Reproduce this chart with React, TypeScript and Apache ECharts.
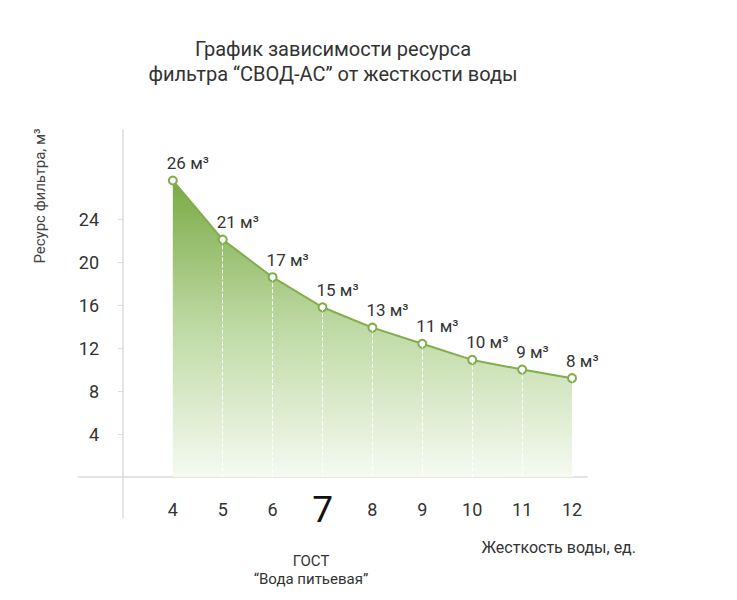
import React, { useEffect, useRef } from "react";
import * as echarts from "echarts";

// жесткость воды, ед.
const hardness = [4, 5, 6, 7, 8, 9, 10, 11, 12];
// положение точек на шкале (как нарисовано)
const plotted = [27.6, 22.1, 18.6, 15.8, 13.9, 12.4, 10.9, 10.0, 9.2];
// подписи ресурса, м³
const resource = [26, 21, 17, 15, 13, 11, 10, 9, 8];
const yTicks = [4, 8, 12, 16, 20, 24];
const gostValue = 7;

const FONT = "Roboto, 'Noto Sans', sans-serif";

const App = () => {
  const chartRef = useRef(null);

  useEffect(() => {
    let myChart: echarts.ECharts = null;
    if (chartRef.current !== null) {
      myChart = echarts.init(chartRef.current, null, { renderer: "svg" });
    }

    const points = hardness.map((h, i) => [h, plotted[i]]);

    const option = {
      animation: false,
      textStyle: { fontFamily: FONT },
      title: {
        text: "График зависимости ресурса\nфильтра “СВОД-АС” от жесткости воды",
        left: 328,
        textAlign: "center",
        top: 31,
        textStyle: {
          fontSize: 20,
          fontWeight: "normal",
          color: "#333",
          lineHeight: 25,
          fontFamily: FONT,
        },
      },
      grid: { left: 78, right: 150, top: 130, bottom: 123 },
      xAxis: {
        type: "value",
        min: 2.1,
        max: 12.3,
        interval: 1,
        splitLine: { show: false },
        axisTick: { show: false },
        axisLine: { lineStyle: { color: "#dcdcdc", width: 1.5 } },
        axisLabel: {
          customValues: hardness,
          margin: 32,
          verticalAlign: "middle",
          fontSize: 18,
          color: "#333",
          formatter: (v: number) => (v === gostValue ? "{big|" + v + "}" : String(v)),
          rich: {
            big: { fontSize: 37, color: "#111", fontFamily: FONT },
          },
        },
      },
      yAxis: {
        type: "value",
        min: 0,
        max: 32.3,
        interval: 4,
        offset: -45,
        splitLine: { show: false },
        axisLine: { show: true, onZero: false, lineStyle: { color: "#dcdcdc", width: 1.5 } },
        axisTick: {
          show: true,
          customValues: yTicks,
          length: 5,
          lineStyle: { color: "#dcdcdc" },
        },
        axisLabel: {
          customValues: yTicks,
          margin: 24,
          fontSize: 18,
          color: "#333",
        },
      },
      series: [
        {
          type: "line",
          data: points,
          symbol: "circle",
          symbolSize: 8,
          itemStyle: { color: "#fff", borderColor: "#7fae4a", borderWidth: 2 },
          lineStyle: { color: "#7fae4a", width: 2 },
          areaStyle: {
            opacity: 1,
            color: new echarts.graphic.LinearGradient(0, 0, 0, 1, [
              { offset: 0, color: "#7aaa45" },
              { offset: 0.5, color: "#bfdaa5" },
              { offset: 1, color: "#f6faf2" },
            ]),
          },
          label: {
            show: true,
            position: "top",
            align: "left",
            offset: [-6, 1],
            fontSize: 17,
            color: "#333",
            formatter: (p: any) => resource[p.dataIndex] + " м³",
          },
          markLine: {
            silent: true,
            symbol: "none",
            label: { show: false },
            lineStyle: { color: "#ffffff", type: "dashed", width: 1, opacity: 0.9 },
            data: points.slice(1).map((p) => [
              { coord: [p[0], p[1]] },
              { coord: [p[0], 0] },
            ]),
          },
        },
      ],
      graphic: [
        // продолжение оси Y ниже оси X
        {
          type: "line",
          shape: { x1: 123, y1: 477, x2: 123, y2: 518 },
          style: { stroke: "#dcdcdc", lineWidth: 1.5 },
        },
        {
          type: "text",
          x: 40,
          y: 196,
          rotation: Math.PI / 2,
          style: {
            text: "Ресурс фильтра, м³",
            fontSize: 15,
            fill: "#444",
            fontFamily: FONT,
            align: "center",
            verticalAlign: "middle",
          },
        },
        {
          type: "text",
          x: 636,
          y: 547,
          style: {
            text: "Жесткость воды, ед.",
            fontSize: 16,
            fill: "#333",
            fontFamily: FONT,
            align: "right",
            verticalAlign: "middle",
          },
        },
        {
          type: "text",
          x: 311,
          y: 570,
          style: {
            text: "ГОСТ\n“Вода питьевая”",
            fontSize: 15,
            lineHeight: 18,
            fill: "#333",
            fontFamily: FONT,
            align: "center",
            verticalAlign: "middle",
          },
        },
      ],
    };

    if (myChart !== null) {
      myChart.setOption(option);
    }

    return () => {
      if (myChart !== null) {
        myChart.dispose();
      }
    };
  }, []);

  return (
    <div
      ref={chartRef}
      style={{ position: "fixed", left: 0, top: 0, width: 737, height: 600, background: "#fff" }}
    ></div>
  );
};

export default App;
